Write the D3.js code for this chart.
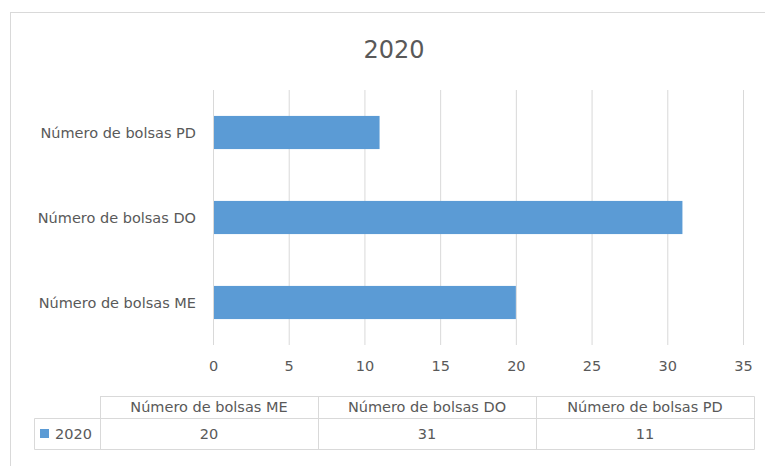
<!DOCTYPE html>
<html>
<head>
<meta charset="utf-8">
<script src="https://cdn.jsdelivr.net/npm/d3@7"></script>
<style>
  body { margin: 0; background: #fff; }
  svg { display: block; font-family: "DejaVu Sans", sans-serif; }
</style>
</head>
<body>
<svg width="765" height="466"></svg>
<script>
const categories = ['Número de bolsas ME', 'Número de bolsas DO', 'Número de bolsas PD'];
const values2020 = [20, 31, 11];
const xTicks = [0, 5, 10, 15, 20, 25, 30, 35];
const seriesName = '2020';

const svg = d3.select('svg');
const textColor = '#595959';
const barColor = '#5b9bd5';
const gridColor = '#d9d9d9';
const fontSize = 14.5;

// chart frame
svg.append('rect')
  .attr('x', 10.5).attr('y', 12.5)
  .attr('width', 800).attr('height', 500)
  .attr('fill', '#fff')
  .attr('stroke', '#d9d9d9');

svg.append('text')
  .attr('x', 394).attr('y', 58)
  .attr('text-anchor', 'middle')
  .attr('font-size', 24)
  .attr('fill', textColor)
  .text('2020');

const x = d3.scaleLinear().domain([0, 35]).range([213, 743]);
const y = d3.scaleBand()
  .domain(categories.slice().reverse())
  .range([90, 345])
  .paddingInner(0.61)
  .paddingOuter(0.305);

// gridlines
svg.append('g')
  .selectAll('line')
  .data(xTicks)
  .enter().append('line')
    .attr('x1', d => x(d) + 0.5)
    .attr('x2', d => x(d) + 0.5)
    .attr('y1', 90)
    .attr('y2', 345)
    .attr('stroke', gridColor);

svg.append('g')
  .selectAll('rect')
  .data(categories)
  .enter().append('rect')
    .attr('x', x(0) + 1)
    .attr('y', d => y(d))
    .attr('width', (d, i) => x(values2020[i]) - x(0) - 1)
    .attr('height', y.bandwidth())
    .attr('fill', barColor);

// category labels
svg.append('g')
  .selectAll('text')
  .data(categories)
  .enter().append('text')
    .attr('x', 196)
    .attr('y', d => y(d) + y.bandwidth() / 2)
    .attr('dy', '0.35em')
    .attr('text-anchor', 'end')
    .attr('font-size', fontSize)
    .attr('fill', textColor)
    .text(d => d);

// value axis labels
const xAxis = svg.append('g')
  .attr('transform', 'translate(0,345)')
  .call(d3.axisBottom(x).tickValues(xTicks).tickSize(0).tickPadding(16));
xAxis.select('.domain').remove();
xAxis.selectAll('text')
  .attr('font-size', fontSize)
  .attr('font-family', '"DejaVu Sans", sans-serif')
  .attr('fill', textColor);

// data table
const colX = [100, 318, 536, 754];
const headTop = 396, rowTop = 418, rowBottom = 449;
const table = svg.append('g').attr('fill', 'none').attr('stroke', gridColor);

table.append('path')
  .attr('d', `M${colX[0] + 0.5},${rowTop + 0.5}V${headTop + 0.5}H${colX[3] + 0.5}V${rowBottom + 0.5}H34.5V${rowTop + 0.5}H${colX[3] + 0.5}`);
table.selectAll('line.col')
  .data(colX.slice(0, 3))
  .enter().append('line')
    .attr('x1', d => d + 0.5).attr('x2', d => d + 0.5)
    .attr('y1', headTop).attr('y2', rowBottom);

svg.append('g')
  .selectAll('text')
  .data(categories)
  .enter().append('text')
    .attr('x', (d, i) => (colX[i] + colX[i + 1]) / 2)
    .attr('y', (headTop + rowTop) / 2)
    .attr('dy', '0.35em')
    .attr('text-anchor', 'middle')
    .attr('font-size', fontSize)
    .attr('fill', textColor)
    .text(d => d);

svg.append('g')
  .selectAll('text')
  .data(values2020)
  .enter().append('text')
    .attr('x', (d, i) => (colX[i] + colX[i + 1]) / 2)
    .attr('y', (rowTop + rowBottom) / 2)
    .attr('dy', '0.35em')
    .attr('text-anchor', 'middle')
    .attr('font-size', fontSize)
    .attr('fill', textColor)
    .text(d => d);

svg.append('rect')
  .attr('x', 40).attr('y', 429)
  .attr('width', 9).attr('height', 9)
  .attr('fill', barColor);
svg.append('text')
  .attr('x', 55).attr('y', (rowTop + rowBottom) / 2)
  .attr('dy', '0.35em')
  .attr('font-size', fontSize)
  .attr('fill', textColor)
  .text(seriesName);
</script>
</body>
</html>
